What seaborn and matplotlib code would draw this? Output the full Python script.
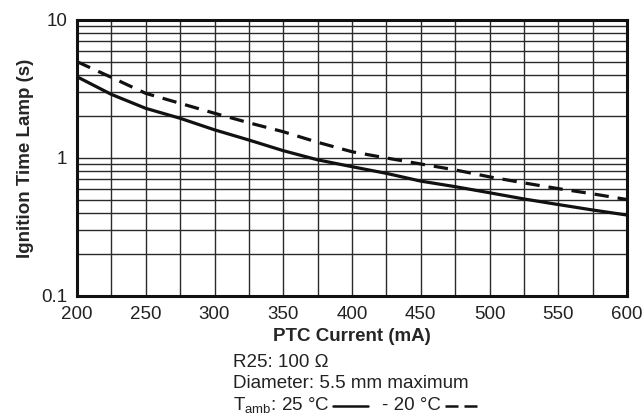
import numpy as np
import pandas as pd
import seaborn as sns
import matplotlib.pyplot as plt
from matplotlib.lines import Line2D
from matplotlib.ticker import FixedLocator, LogLocator, NullFormatter, FixedFormatter

# данные
current = [200, 225, 250, 275, 300, 325, 350, 375, 400, 425, 450, 475, 500, 525, 550, 575, 600]
t_25 = [3.88, 2.89, 2.29, 1.94, 1.60, 1.35, 1.13, 0.97, 0.865, 0.774, 0.68, 0.62, 0.56, 0.505, 0.46, 0.42, 0.386]
t_m20 = [4.99, 3.84, 2.94, 2.49, 2.11, 1.80, 1.55, 1.30, 1.11, 1.0, 0.905, 0.82, 0.73, 0.66, 0.60, 0.55, 0.50]

x_ticks = [200, 250, 300, 350, 400, 450, 500, 550, 600]
y_ticks = [0.1, 1, 10]
y_tick_labels = ['0.1', '1', '10']

df = pd.DataFrame({'current': current, 't25': t_25, 'tm20': t_m20})

sns.set_style("white")
plt.rcParams['font.family'] = ['Liberation Sans', 'DejaVu Sans']
plt.rcParams['mathtext.fontset'] = 'custom'
plt.rcParams['mathtext.rm'] = 'Liberation Sans'

fig = plt.figure(figsize=(6.44, 4.16), dpi=100)
ax = fig.add_axes([77 / 644, 1 - 296 / 416, 550 / 644, 276 / 416])

sns.lineplot(data=df, x='current', y='t25', ax=ax, color='#111111', lw=2.3)
sns.lineplot(data=df, x='current', y='tm20', ax=ax, color='#111111', lw=2.3,
             linestyle=(0, (4.5, 2.8)))

ax.set_yscale('log')
ax.set_xlim(200, 600)
ax.set_ylim(0.1, 10)

ax.xaxis.set_major_locator(FixedLocator(x_ticks))
ax.xaxis.set_minor_locator(FixedLocator(list(range(200, 601, 25))))
ax.yaxis.set_major_locator(FixedLocator(y_ticks))
ax.yaxis.set_major_formatter(FixedFormatter(y_tick_labels))
ax.yaxis.set_minor_locator(LogLocator(base=10, subs=np.arange(2, 10)))
ax.yaxis.set_minor_formatter(NullFormatter())

ax.grid(True, which='both', color='#2a2a2a', lw=1.0)
ax.set_axisbelow(True)
for s in ax.spines.values():
    s.set_color('#111111')
    s.set_linewidth(2.2)

fs = 13.5
ax.tick_params(axis='both', which='major', labelsize=fs, colors='#222222',
               length=6, width=1.2, pad=1)
ax.tick_params(axis='x', which='major', length=0, pad=7)
ax.tick_params(which='minor', length=0)

ax.set_xlabel('PTC Current (mA)', fontsize=fs, fontweight='bold', labelpad=4)
ax.set_ylabel('Ignition Time Lamp (s)', fontsize=fs, fontweight='bold', labelpad=5)

# подпись под графиком
def px(x, y):
    return x / 644, 1 - y / 416

fig.text(*px(233, 367), 'R25: 100 \u03a9', fontsize=fs, va='baseline', color='#222222')
fig.text(*px(233, 388), 'Diameter: 5.5 mm maximum', fontsize=fs, va='baseline', color='#222222')
fig.text(*px(233, 410.5), r'T$_{\mathrm{amb}}$: 25 °C', fontsize=fs, va='baseline', color='#222222')
fig.text(*px(382, 410.5), '- 20 °C', fontsize=fs, va='baseline', color='#222222')
x0, y0 = px(333, 405.5)
x1, _ = px(368, 405.5)
fig.add_artist(Line2D([x0, x1], [y0, y0], transform=fig.transFigure, color='#111111', lw=1.8))
x0, _ = px(445, 405.5)
x1, _ = px(480, 405.5)
fig.add_artist(Line2D([x0, x1], [y0, y0], transform=fig.transFigure, color='#111111', lw=1.8,
                      linestyle=(0, (5.2, 2.4))))

fig.savefig('out.png', dpi=100)
